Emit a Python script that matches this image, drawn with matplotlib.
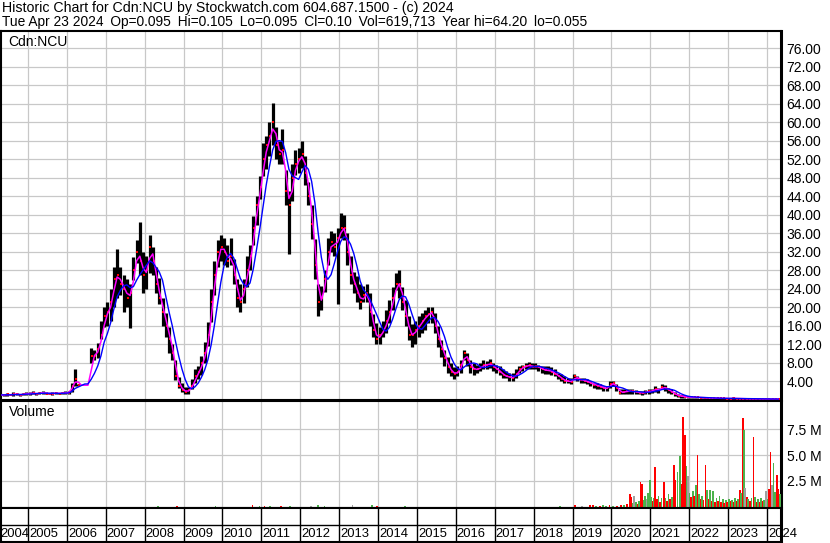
#!/usr/bin/env python3

import numpy as np
import pandas as pd
import matplotlib
matplotlib.use('Agg')
import matplotlib.pyplot as plt
import matplotlib.transforms as mtransforms

plt.rcParams['font.family'] = ['Liberation Sans', 'DejaVu Sans']

nan = np.nan

# monthly bars, Apr 2004 .. Apr 2024 (nan = halted, mid 2006)
first_month = '2004-04'
last_month = '2024-04'

price_high = [
    1.5, 1.2, 1.4, 1.3, 1.6, 1.4, 1.2, 1.5, 1.7,
    1.6, 1.8, 1.5, 1.7, 1.9, 1.6, 1.5, 1.6, 1.7, 1.5, 1.6, 1.8,
    1.8, 3.5, 6.6, 3.4, nan, nan, nan, 11.1, 10.7, 12.3, 17, 20,
    21, 24, 28.6, 32.5, 28.6, 27, 26, 25, 30.8, 34.5, 38.4, 32,
    31, 35.6, 33, 28.6, 26.3, 22, 18.7, 15.6, 12, 8.5, 4.8, 3.5,
    2.8, 2.8, 4.4, 6.5, 7.3, 9.5, 12.4, 16.7, 24, 30, 34.5, 35.6,
    35, 33.5, 35, 30.5, 26, 25, 26, 31, 33.5, 39.6, 44, 48.4,
    55.5, 57, 60, 64.2, 59, 56, 58.5, 49.6, 45, 51, 54, 54.5,
    56, 52.6, 47, 42, 34.8, 25, 24.5, 28, 35, 36.5, 36, 37,
    40.3, 40, 36, 31, 27.5, 26.8, 25, 24.5, 25, 23, 18.6, 16.5,
    15.7, 17, 19.3, 21.5, 24.4, 27.3, 28, 24.4, 21.5, 18, 16.4, 17,
    18, 18.7, 19.4, 20, 20, 18.7, 16, 12.9, 10.7, 9.3, 7.8, 7,
    7.3, 8.6, 10.8, 10, 8.6, 7.9, 7.5, 7.9, 8.6, 8.3, 8.7, 8,
    7.5, 7.2, 6.5, 6.1, 5.8, 5.8, 6.5, 7.2, 7.5, 7.9, 8.1, 7.9,
    7.9, 7.5, 7.2, 7.3, 7.3, 7, 6.5, 5.8, 5.5, 5, 4.7, 4.7,
    5.5, 5.1, 4.7, 4.7, 4.4, 4, 3.6, 3.6, 3.3, 2.9, 2.9, 4,
    4, 3.3, 2.2, 2.2, 2.2, 2.2, 2.2, 2, 1.8, 1.8, 2, 2.2,
    2.3, 2.9, 2.5, 3.3, 3.1, 2.5, 2.2, 1.6, 1.1, 0.95, 0.9, 0.7,
    0.65, 0.6, 0.58, 0.55, 0.52, 0.46, 0.4, 0.4, 0.37, 0.34, 0.33, 0.3,
    0.3, 0.6, 0.3, 0.27, 0.25, 0.22, 0.2, 0.19, 0.18, 0.16, 0.16, 0.15,
    0.14, 0.14, 0.13, 0.12,
]

price_low = [
    0.7, 0.8, 0.7, 0.9, 0.8, 0.9, 0.8, 0.9, 1.0,
    1.0, 1.1, 1.0, 1.1, 1.2, 1.1, 1.1, 1.0, 1.1, 1.1, 1.2, 1.1,
    1.2, 1.6, 3.0, 3.0, nan, nan, nan, 8.0, 8.5, 9.0, 13, 15.7,
    16, 17, 20, 22, 22.6, 19, 20, 15.5, 25.8, 29.5, 27, 23,
    24, 27.3, 27, 23, 20.7, 16, 13.5, 10, 8.5, 4.2, 2.5, 1.6,
    1.3, 1.3, 2.2, 3.6, 4.4, 5.4, 8, 11.6, 16.7, 22.5, 28.7, 30,
    29, 28.7, 29, 25, 20, 19, 20.8, 24.4, 28, 33.5, 37.8, 43.3,
    48.4, 49.8, 52.6, 55, 52, 51, 51, 42, 31.5, 43, 48.5, 49,
    50, 46.5, 42, 34.8, 26, 18, 19.3, 23.3, 29, 31.8, 31, 20.7,
    35, 34.5, 29, 25, 23, 21, 19.5, 21, 21, 16, 13.5, 12,
    12, 13.5, 14.3, 16.5, 19.3, 23.7, 22, 19.3, 16, 12.9, 11.4, 12,
    13.6, 14.3, 15, 16.5, 16.5, 14.3, 11.4, 9.3, 7.3, 5.8, 5, 4.4,
    5, 5.8, 8.6, 7.2, 5.8, 5.4, 5.8, 6.1, 6.5, 6.5, 6.8, 6.1,
    5.8, 5.4, 4.6, 4.6, 4, 4, 4.6, 5.8, 6.1, 6.5, 6.5, 6.5,
    6.5, 6.1, 5.8, 5.5, 5.5, 5.2, 5, 4.4, 4, 3.6, 3.6, 3.3,
    4.4, 4, 3.6, 3.6, 3.3, 2.9, 2.5, 2.2, 2.2, 1.8, 1.8, 2.5,
    2.9, 1.8, 1.1, 1.1, 1.3, 1.3, 1.3, 1.1, 1.1, 0.9, 1.1, 1.3,
    1.5, 1.6, 1.5, 2.2, 1.8, 1.5, 1.1, 0.7, 0.5, 0.4, 0.35, 0.35,
    0.4, 0.38, 0.35, 0.33, 0.3, 0.27, 0.24, 0.23, 0.21, 0.19, 0.19, 0.17,
    0.17, 0.19, 0.17, 0.15, 0.13, 0.12, 0.11, 0.1, 0.09, 0.08, 0.08, 0.07,
    0.07, 0.06, 0.055, 0.08,
]

price_close = [
    1.0, 1.0, 1.1, 1.0, 1.2, 1.1, 1.0, 1.2, 1.3,
    1.3, 1.4, 1.2, 1.4, 1.5, 1.3, 1.3, 1.3, 1.4, 1.3, 1.4, 1.5,
    1.5, 3.0, 4.5, 3.1, nan, nan, nan, 9.5, 9.5, 11, 14, 18,
    19, 21, 26, 27, 25, 24, 22, 23, 28, 32, 30, 27,
    28, 33, 30, 25, 22, 19, 16, 13, 10, 5, 3, 2,
    1.7, 2.0, 3.0, 5, 6, 8, 10, 14, 21, 27, 32, 33,
    32, 30, 31, 27, 22, 21, 24, 28, 31, 37, 42, 46,
    52, 55, 57, 60, 55, 53, 54, 45, 42, 48, 51, 52,
    53, 49, 44, 38, 29, 21, 22, 26, 32, 34, 33, 35,
    37, 37, 32, 27, 25, 23, 21, 22.5, 23, 19, 15, 13,
    14, 15, 17, 19, 22, 25, 25, 21, 18, 14, 14, 15,
    16, 17, 18, 18.5, 19, 16, 13, 11, 9, 7, 6, 5.5,
    6, 7.5, 10, 8.5, 7, 6.5, 6.5, 7, 7.5, 7.5, 7.8, 7,
    6.5, 6, 5.2, 5, 4.8, 4.7, 5.5, 6.5, 7, 7.2, 7.5, 7,
    7.2, 7, 6.5, 6.3, 6.3, 6, 5.5, 5, 4.5, 4, 4, 3.8,
    5, 4.5, 4.2, 4.1, 3.8, 3.5, 3.2, 3, 2.8, 2.4, 2.4, 3.3,
    3.5, 2.5, 1.5, 1.6, 1.8, 1.8, 1.8, 1.6, 1.5, 1.4, 1.6, 1.8,
    1.9, 2.3, 2.0, 2.7, 2.5, 2.0, 1.6, 1.1, 0.8, 0.7, 0.6, 0.5,
    0.5, 0.48, 0.45, 0.42, 0.4, 0.35, 0.3, 0.3, 0.28, 0.25, 0.25, 0.22,
    0.22, 0.25, 0.22, 0.2, 0.18, 0.16, 0.15, 0.14, 0.13, 0.12, 0.12, 0.11,
    0.11, 0.11, 0.10, 0.10,
]

# volume bars (decimal year, millions of shares, r=down g=up n=unchanged)
vol_time = [
    2008.35, 2008.84, 2009.82, 2010.77, 2010.95, 2011.08, 2011.23, 2011.51, 2011.74,
    2012.28, 2012.46, 2012.62, 2013.34, 2013.85, 2013.98, 2014.70, 2018.37, 2018.68,
    2019.07, 2019.25, 2019.45, 2019.52, 2019.60, 2019.70, 2019.78, 2019.87, 2019.95,
    2020.05, 2020.15, 2020.25, 2020.33, 2020.40, 2020.47, 2020.51, 2020.55, 2020.59,
    2020.63, 2020.67, 2020.71, 2020.75, 2020.79, 2020.83, 2020.87, 2020.91, 2020.95,
    2020.99, 2021.03, 2021.07, 2021.10, 2021.13, 2021.17, 2021.21, 2021.25, 2021.29,
    2021.35, 2021.39, 2021.43, 2021.47, 2021.51, 2021.55, 2021.60, 2021.64, 2021.70,
    2021.76, 2021.80, 2021.85, 2021.89, 2021.93, 2021.97, 2022.01, 2022.05, 2022.09,
    2022.13, 2022.17, 2022.21, 2022.25, 2022.29, 2022.33, 2022.37, 2022.42, 2022.46,
    2022.50, 2022.54, 2022.58, 2022.62, 2022.66, 2022.70, 2022.74, 2022.78, 2022.82,
    2022.86, 2022.90, 2022.94, 2022.98, 2023.02, 2023.06, 2023.10, 2023.14, 2023.18,
    2023.22, 2023.26, 2023.30, 2023.34, 2023.38, 2023.40, 2023.44, 2023.48, 2023.52,
    2023.56, 2023.60, 2023.65, 2023.69, 2023.73, 2023.77, 2023.81, 2023.85, 2023.89,
    2023.93, 2023.97, 2024.01, 2024.05, 2024.09, 2024.13, 2024.17, 2024.21, 2024.25,
    2024.29, 2024.33,
]
vol_millions = [
    0.10, 0.05, 0.05, 0.15, 0.06, 0.05, 0.06, 0.05, 0.05,
    0.08, 0.15, 0.06, 0.15, 0.20, 0.06, 0.05, 0.04, 0.05,
    0.15, 0.08, 0.20, 0.15, 0.10, 0.10, 0.15, 0.10, 0.20,
    0.10, 0.10, 0.15, 0.20, 0.30, 1.20, 1.00, 0.40, 1.10,
    0.50, 0.30, 0.60, 2.40, 2.20, 0.70, 1.10, 0.80, 1.30,
    2.60, 1.00, 0.60, 0.90, 3.80, 0.80, 1.10, 0.50, 0.90,
    2.40, 0.90, 0.60, 1.20, 0.80, 1.00, 4.00, 2.60, 3.40,
    4.90, 2.20, 8.70, 6.90, 3.90, 3.00, 1.30, 1.00, 1.50,
    1.10, 2.10, 5.00, 1.20, 0.80, 1.10, 0.70, 4.00, 1.60,
    0.80, 1.60, 0.60, 1.50, 0.50, 0.90, 0.60, 1.10, 0.50,
    0.80, 0.40, 0.70, 0.50, 0.80, 0.60, 0.70, 0.50, 0.90,
    0.60, 0.80, 1.60, 1.30, 8.60, 7.40, 1.80, 1.00, 0.80,
    0.60, 0.90, 6.70, 1.00, 0.50, 0.80, 0.50, 0.90, 0.60,
    0.70, 1.50, 0.80, 1.70, 5.30, 2.10, 4.20, 1.40, 3.10,
    1.70, 1.20,
]
vol_dir = (
    "grgrgrgrg"
    "nggngrggg"
    "rnrrgrggr"
    "grrgrrrgn"
    "grgrrggng"
    "ggrgrrgrg"
    "rgrgrgrrg"
    "grrrgngrg"
    "rgrgrgrrg"
    "rgrgrgrgr"
    "grgrgrgrg"
    "rgrgrgnrg"
    "rgrgrgrgr"
    "gngrrnggr"
    "rg"
)

price_ticks = [4, 8, 12, 16, 20, 24, 28, 32, 36, 40, 44, 48, 52, 56, 60, 64, 68, 72, 76]
vol_ticks = [2.5, 5.0, 7.5]
vol_tick_labels = ['2.5 M', '5.0 M', '7.5 M']
year_labels = [2004, 2005, 2006, 2007, 2008, 2009, 2010, 2011, 2012, 2013, 2014,
               2015, 2016, 2017, 2018, 2019, 2020, 2021, 2022, 2023, 2024]

GAP = '\u2002'  # en space between the quote fields
header1 = 'Historic Chart for Cdn:NCU by Stockwatch.com 604.687.1500 - (c) 2024'
header2 = GAP.join(['Tue Apr 23 2024', 'Op=0.095', 'Hi=0.105', 'Lo=0.095', 'Cl=0.10',
                    'Vol=619,713', 'Year hi=64.20', 'lo=0.055'])

XMIN, XMAX = 2004.293, 2024.36
GRID = '#c8c8c8'
VOL_COLORS = {'r': '#ff0000', 'g': '#4cb24c', 'n': '#a0a0a0'}
FS = 10

# month midpoints as decimal years
months = pd.period_range(first_month, last_month, freq='M')
t = np.array([m.year + (m.month - 0.5) / 12 for m in months])

close_s = pd.Series(price_close).ffill()
ma_fast = close_s.rolling(2, min_periods=1).mean()
ma_slow = close_s.rolling(5, min_periods=1).mean()

fig = plt.figure(figsize=(8.30, 5.43), dpi=100)
W, H = 830.0, 543.0


def box(x0, y0, x1, y1):
    return [x0 / W, 1 - y1 / H, (x1 - x0) / W, (y1 - y0) / H]


ax_p = fig.add_axes(box(0.5, 31, 781, 400))
ax_v = fig.add_axes(box(0.5, 401, 781, 508), sharex=ax_p)
ax_d = fig.add_axes(box(0.5, 508, 781, 542), sharex=ax_p)

year_lines = [y for y in year_labels if XMIN < y < XMAX]

for ax in (ax_p, ax_v, ax_d):
    ax.set_xlim(XMIN, XMAX)
    for s in ax.spines.values():
        s.set_linewidth(1.5)
    ax.spines['right'].set_linewidth(2.2)

# ---- price panel
ax_p.vlines(t, price_low, price_high, color='black', lw=2.3, zorder=3)
ax_p.plot(t + 0.02, price_close, 's', color='red', ms=1.8, mew=0, zorder=4)
ax_p.plot(t, ma_fast, color='#ff00ff', lw=1.1, zorder=5)
ax_p.plot(t, ma_slow, color='#0000ff', lw=1.0, zorder=6)
ax_p.set_ylim(-0.1, 79.7)
ax_p.set_yticks(price_ticks)
ax_p.set_yticklabels(['%.2f' % v for v in price_ticks])
ax_p.set_xticks(year_lines)
ax_p.yaxis.tick_right()
ax_p.tick_params(axis='y', length=0, pad=4, labelsize=FS)
ax_p.tick_params(axis='x', length=0, labelbottom=False)
ax_p.grid(True, color=GRID, lw=0.9, zorder=0)
ax_p.set_axisbelow(True)
ax_p.text(8 / 781, 1 - 4 / 369, 'Cdn:NCU', transform=ax_p.transAxes,
          ha='left', va='top', fontsize=FS)

# ---- volume panel
colors = [VOL_COLORS[c] for c in vol_dir]
ax_v.bar(vol_time, vol_millions, width=0.045, color=colors, linewidth=0, zorder=3)
ax_v.set_ylim(-0.1, 10.2)
ax_v.set_yticks(vol_ticks)
ax_v.set_yticklabels(vol_tick_labels)
ax_v.yaxis.tick_right()
ax_v.tick_params(axis='y', length=0, pad=4, labelsize=FS)
ax_v.tick_params(axis='x', length=0, labelbottom=False)
ax_v.grid(True, color=GRID, lw=0.9, zorder=0)
ax_v.set_axisbelow(True)
ax_v.text(8 / 781, 1 - 4 / 107, 'Volume', transform=ax_v.transAxes,
          ha='left', va='top', fontsize=FS)

# ---- date strip
ax_d.set_ylim(0, 1)
ax_d.set_yticks([])
ax_d.tick_params(axis='x', length=0, labelbottom=False)
ax_d.axhline(0.5, color='black', lw=1.0)
ax_d.vlines(year_lines, 0, 1, color='black', lw=1.0)
shift = mtransforms.offset_copy(ax_d.transData, fig=fig, x=1.0, y=0, units='dots')
for y in year_labels:
    if y < XMIN:
        # partial first year: label sits against the next boundary
        ax_d.text(y + 1, 0.24, str(y), transform=shift, ha='right', va='center',
                  fontsize=9.4, clip_on=False)
    else:
        ax_d.text(y, 0.24, str(y), transform=shift, ha='left', va='center',
                  fontsize=9.4, clip_on=False)

# ---- header
fig.text(2 / W, 1 - 1 / H, header1, ha='left', va='top', fontsize=10.2)
fig.text(2 / W, 1 - 15 / H, header2, ha='left', va='top', fontsize=9.9)

fig.savefig('out.png', dpi=100)
